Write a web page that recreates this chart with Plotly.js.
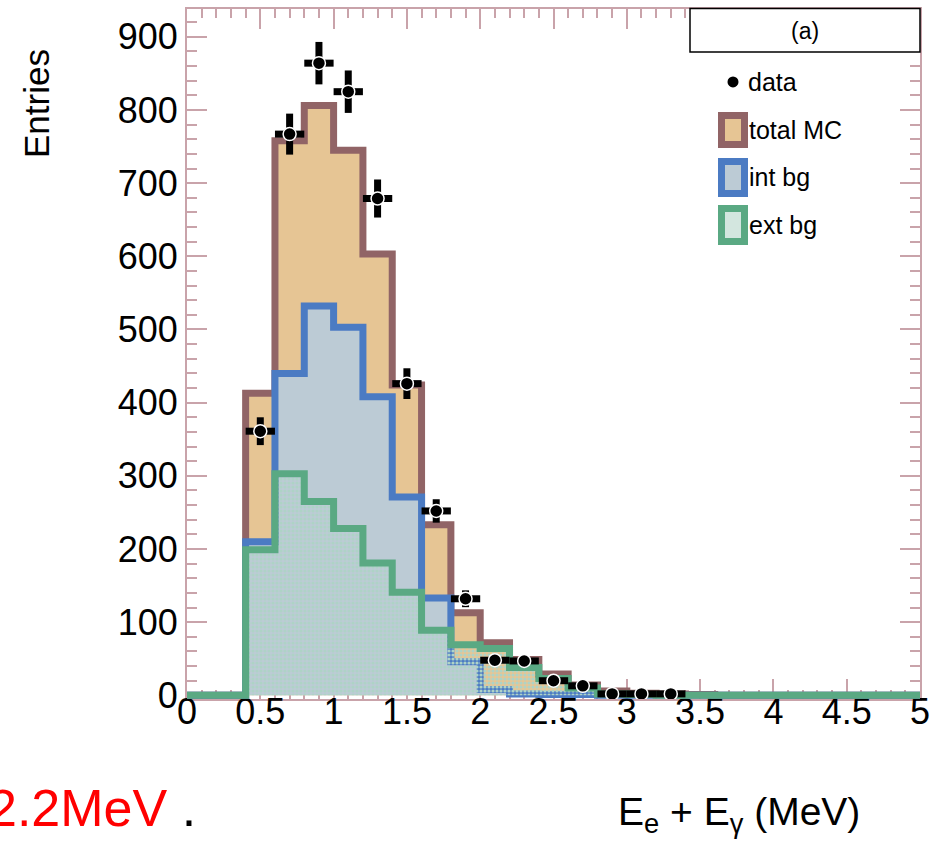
<!DOCTYPE html>
<html>
<head>
<meta charset="utf-8">
<script src="https://cdn.plot.ly/plotly-3.0.1.min.js"></script>
<style>html,body{margin:0;padding:0;background:#fff;}#chart{width:939px;height:843px;}</style>
</head>
<body>
<div id="chart"></div>
<script>
// ---- data ----
const binLow = [0.0,0.2,0.4,0.6,0.8,1.0,1.2,1.4,1.6,1.8,2.0,2.2,2.4,2.6,2.8,3.0,3.2,3.4,3.6,3.8,4.0,4.2,4.4,4.6,4.8];
const binHigh = 5.0;
const totalMC = [0,0,413,758,806,745,603,424,233,113,72,49,29,14,6,3,2,1,0,0,0,0,0,0,0];
const intBg   = [0,0,210,440,532,503,408,271,133,46,8,2,1,1,0,0,0,0,0,0,0,0,0,0,0];
const extBg   = [0,0,199,303,265,228,181,141,89,69,64,38,23,10,2,1,0,0,0,0,0,0,0,0,0];
const dataX   = [0.5,0.7,0.9,1.1,1.3,1.5,1.7,1.9,2.1,2.3,2.5,2.7,2.9,3.1,3.3];
const dataY   = [361,767,864,825,679,426,252,132,48,47,20,13,2,2,2];
const dataErr = [19,28,29,29,26,21,16,11.5,7,7,4.5,3.6,1.4,1.4,1.4];
const legendLabels = ['data','total MC','int bg','ext bg'];

// ---- styles ----
const C = {
  brown:'#916466', tan:'#e6c594',
  blue:'#4b7bc3', grayblue:'#bccbd5',
  green:'#5aa983', frame:'#c9a3aa'
};
const FONT = 'Liberation Sans, Arial, Helvetica, sans-serif';

function stepXY(vals){
  return {x: binLow.concat([binHigh]), y: vals.concat([vals[vals.length-1]])};
}
function histTrace(vals, name, lineColor, fill){
  const s = stepXY(vals);
  const t = {type:'scatter', mode:'lines', x:s.x, y:s.y, name:name,
    line:{shape:'hv', color:lineColor, width:7}, fill:'tozeroy', showlegend:false, hoverinfo:'skip'};
  Object.assign(t, fill);
  return t;
}

const traces = [
  histTrace(totalMC, 'total MC', C.brown, {fillcolor:C.tan}),
  histTrace(intBg, 'int bg', C.blue, {fillcolor:C.grayblue}),
  histTrace(extBg, 'ext bg', C.green, {fillcolor:'rgba(0,0,0,0)',
     fillpattern:{shape:'.', size:4, solidity:0.5, fgcolor:'#aed3c6', bgcolor:'rgba(0,0,0,0)'}}),
  {type:'scatter', mode:'markers', x:dataX, y:dataY, name:'data', showlegend:false,
   marker:{color:'#000', size:13, line:{color:'#fff', width:1.5}},
   error_y:{type:'data', array:dataErr, visible:true, thickness:7, width:0, color:'#000'},
   error_x:{type:'constant', value:0.1, visible:true, thickness:7, width:0, color:'#000'}}
];

// pixel -> paper helpers (plot area: x 187..920, y 9..699.2)
const L=187, R=920, T=9, B=699.2;
const px = x => (x-L)/(R-L);
const py = y => (B-y)/(B-T);

const shapes = [
  {type:'rect', xref:'paper', yref:'paper', x0:px(690), x1:px(920), y0:py(52), y1:py(8.5),
   line:{color:'#000', width:1.5}, fillcolor:'#fff', layer:'above'},
  {type:'circle', xref:'paper', yref:'paper', x0:px(727.5), x1:px(738.5), y0:py(87.5), y1:py(76.5),
   line:{color:'#000', width:0}, fillcolor:'#000', layer:'above'},
  {type:'rect', xref:'paper', yref:'paper', x0:px(721.5), x1:px(744.5), y0:py(144.5), y1:py(115.5),
   line:{color:C.brown, width:7}, fillcolor:C.tan, layer:'above'},
  {type:'rect', xref:'paper', yref:'paper', x0:px(721.5), x1:px(744.5), y0:py(193.5), y1:py(161.5),
   line:{color:C.blue, width:7}, fillcolor:C.grayblue, layer:'above'},
  {type:'rect', xref:'paper', yref:'paper', x0:px(721.5), x1:px(744.5), y0:py(241.5), y1:py(208.5),
   line:{color:C.green, width:7}, fillcolor:'#d3e6df', layer:'above'}
];

const legY = [82, 130, 177, 225];
const annotations = [
  {xref:'paper', yref:'paper', x:px(805), y:py(31), text:'(a)', showarrow:false,
   xanchor:'center', yanchor:'middle', font:{family:FONT, size:23, color:'#000'}},
  {xref:'paper', yref:'paper', x:px(37), y:py(104), text:'Entries', showarrow:false, textangle:-90,
   xanchor:'center', yanchor:'middle', font:{family:FONT, size:35, color:'#000'}},
  {xref:'paper', yref:'paper', x:px(862), y:py(815), text:'E<sub>e</sub> + E<sub>γ</sub> (MeV)', showarrow:false,
   xanchor:'right', yanchor:'middle', font:{family:FONT, size:39, color:'#000'}},
  {xref:'paper', yref:'paper', x:px(-14), y:py(808), text:'<span style="color:#ff0000">2.2MeV</span>&nbsp;.', showarrow:false,
   xanchor:'left', yanchor:'middle', font:{family:FONT, size:52, color:'#000'}}
];
legendLabels.forEach((lab,i)=>{
  annotations.push({xref:'paper', yref:'paper', x:px(i===0?746:747), y:py(legY[i]), text:lab, showarrow:false,
    xanchor:'left', yanchor:'middle', font:{family:FONT, size:25, color:'#000'}});
});

const axisCommon = {
  showline:true, linecolor:C.frame, linewidth:2, mirror:'ticks', ticks:'inside',
  tickcolor:C.frame, tickwidth:2, showgrid:false, zeroline:false, layer:'below traces',
  tickfont:{family:FONT, size:36, color:'#000'}
};
const layout = {
  width:939, height:843, margin:{l:L, r:939-R, t:T, b:843-B, pad:0},
  paper_bgcolor:'#fff', plot_bgcolor:'#fff', showlegend:false,
  xaxis:Object.assign({}, axisCommon, {range:[0,5], dtick:0.5, tick0:0, ticklen:20, ticklabelstandoff:-20,
     minor:{dtick:0.1, ticklen:9, tickcolor:C.frame, tickwidth:2, ticks:'inside'}}),
  yaxis:Object.assign({}, axisCommon, {range:[-5,938], dtick:100, tick0:0, ticklen:20,
     minor:{dtick:20, ticklen:10, tickcolor:C.frame, tickwidth:2, ticks:'inside'}}),
  shapes:shapes, annotations:annotations
};
Plotly.newPlot('chart', traces, layout, {staticPlot:true, displayModeBar:false});
</script>
</body>
</html>
